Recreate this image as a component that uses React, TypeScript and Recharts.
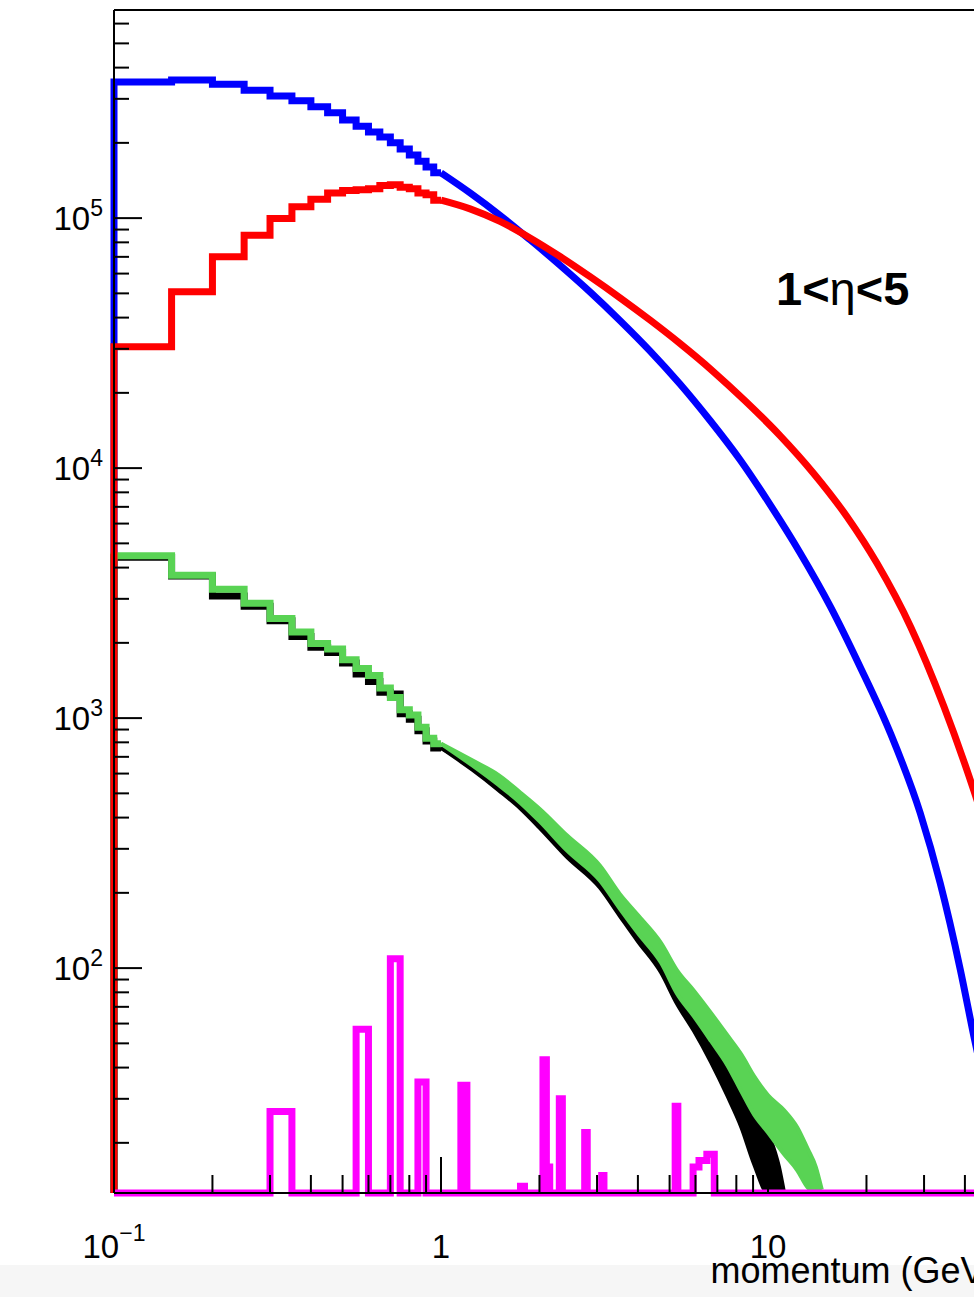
import { ComposedChart, Line, Area, XAxis, YAxis, ReferenceLine } from 'recharts'

const FONT = "'Liberation Sans', Arial, Helvetica, sans-serif"

const X_MIN = 0.1
const X_MAX = 50
const Y_MIN = 12.6 // frame floor, empty bins sit here like in ROOT
const Y_MAX = 680000

// low edges of the 0.05 GeV bins, drawn bin by bin below 1 GeV
const binEdges = [0.1, 0.15, 0.2, 0.25, 0.3, 0.35, 0.4, 0.45, 0.5, 0.55, 0.6, 0.65, 0.7, 0.75, 0.8, 0.85, 0.9, 0.95]
const binEnd = 1.0

const blueBins = [350000, 357000, 343000, 325000, 308000, 295000, 279000, 264000, 247000, 233000, 221000, 211000, 200000, 189000, 179000, 169000, 160000, 152000]
const redBins = [30600, 50700, 70000, 85500, 99700, 111000, 119000, 126000, 129000, 130000, 131000, 135000, 136000, 133000, 131000, 126000, 124000, 118000]
const blackBins = [4400, 3700, 3080, 2800, 2450, 2120, 1920, 1830, 1660, 1500, 1400, 1270, 1250, 1040, 990, 890, 810, 760]
const greenBins = [4460, 3730, 3280, 2880, 2500, 2210, 1990, 1890, 1710, 1580, 1480, 1320, 1210, 1080, 1030, 920, 830, 790]

// above 1 GeV the bins are only a few px wide
const blueTailX = [1.0, 1.23, 1.52, 1.87, 2.31, 2.86, 3.53, 4.36, 5.38, 6.65, 8.21, 10.1, 12.5, 15.5, 19.1, 23.6, 29.2, 33.6, 38.7, 42.7, 47.7]
const blueTail = [151700, 125900, 102300, 82000, 64900, 50600, 38900, 29400, 21700, 15500, 10800, 7210, 4610, 2800, 1610, 879, 417, 219, 99, 52.6, 26.9]
const redTailX = [1.0, 1.227, 1.515, 1.872, 2.312, 2.856, 3.527, 4.356, 5.381, 6.788, 8.505, 10.88, 13.73, 17.44, 21.54, 27.37, 34.53, 42.66, 47.7]
const redTail = [118000, 108900, 97000, 83300, 70200, 58300, 48000, 39100, 31500, 24400, 18600, 13500, 9590, 6390, 4160, 2300, 1110, 510, 323]

// green and black get noisy above 1 GeV: upper / lower envelope
const greenBandX = [1.0, 1.25, 1.5, 1.75, 2.0, 2.43, 3.06, 3.52, 4.0, 4.71, 5.27, 5.94, 6.7, 7.5, 8.3, 9.06, 10.0, 11.2, 12.3, 13.2, 14.0, 14.6]
const greenHi = [790, 676, 592, 503, 434, 339, 257, 198, 163, 126, 98, 81, 66, 54, 45, 37, 31, 27, 23, 19, 16, 13]
const greenLo = [790, 645, 540, 458, 387, 295, 224, 173, 138, 105, 79, 64, 51, 41, 32, 26, 22, 18, 15.5, 13.3, 12.6, 12.6]
const blackBandX = [1.0, 1.25, 1.5, 1.75, 2.0, 2.43, 3.06, 3.52, 4.0, 4.71, 5.27, 5.94, 6.7, 7.5, 8.3, 9.06, 10.0, 10.8, 11.2]
const blackHi = [760, 650, 570, 490, 420, 325, 245, 190, 155, 118, 90, 74, 58, 46, 37, 29, 22, 16, 12.6]
const blackLo = [760, 620, 515, 435, 365, 278, 210, 162, 128, 96, 72, 56, 42, 31, 23, 16.5, 12.6, 12.6, 12.6]

// magenta: only the non-empty bins
const magLo = [0.3, 0.55, 0.7, 0.85, 1.15, 1.75, 2.05, 2.1, 2.3, 2.75, 3.1, 5.2, 5.9, 6.15, 6.5]
const magHi = [0.35, 0.6, 0.75, 0.9, 1.2, 1.8, 2.1, 2.15, 2.35, 2.8, 3.15, 5.3, 6.15, 6.5, 6.85]
const magVal = [26.7, 57, 109, 35, 34, 13.4, 43, 16, 30, 22, 14.8, 28, 16, 17, 18]

const xTicks = [0.1, 0.2, 0.3, 0.4, 0.5, 0.6, 0.7, 0.8, 0.9, 1, 2, 3, 4, 5, 6, 7, 8, 9, 10, 20, 30, 40]
const xMajor: Record<number, [string, string]> = { 0.1: ['10', '\u22121'], 1: ['1', ''], 10: ['10', ''] }
const yDecades = [10, 100, 1000, 10000, 100000]
const yTicks = yDecades
  .flatMap((d) => [1, 2, 3, 4, 5, 6, 7, 8, 9].map((m) => m * d))
  .filter((v) => v > Y_MIN && v < Y_MAX)

type Row = { x: number; [key: string]: number | number[] }
const rows: Row[] = []
const put = (key: string, x: number, v: number | number[]) => rows.push({ x, [key]: v })

const addBins = (key: string, bins: number[]) => {
  put(key, binEdges[0], Y_MIN)
  bins.forEach((v, i) => put(key, binEdges[i], v))
  put(key, binEnd, bins[bins.length - 1])
}
const addCurve = (key: string, xs: number[], ys: number[]) => xs.forEach((x, i) => put(key, x, ys[i]))
const addBand = (key: string, xs: number[], lo: number[], hi: number[]) =>
  xs.forEach((x, i) => put(key, x, [lo[i], hi[i]]))

addBins('blue', blueBins)
addCurve('blueTail', blueTailX, blueTail)
addBins('red', redBins)
addCurve('redTail', redTailX, redTail)
addBins('black', blackBins)
addBand('blackBand', blackBandX, blackLo, blackHi)
addBins('green', greenBins)
addBand('greenBand', greenBandX, greenLo, greenHi)

put('mag', X_MIN, Y_MIN)
magLo.forEach((lo, i) => {
  put('mag', lo, magVal[i])
  if (magLo[i + 1] !== magHi[i]) put('mag', magHi[i], Y_MIN)
})
put('mag', X_MAX, Y_MIN)

rows.sort((a, b) => a.x - b.x)

const YTick = (props: any) => {
  const { x, y, payload } = props
  const v = payload.value
  const major = yDecades.includes(v)
  return (
    <g>
      <line x1={x} x2={x + (major ? 28 : 15)} y1={y} y2={y} stroke="#000" strokeWidth={2} />
      {major && (
        <text x={x - 11} y={y + 12} textAnchor="end" fontSize={33} fontFamily={FONT} fill="#000">
          10
          <tspan dy={-14} fontSize={23}>
            {Math.round(Math.log10(v))}
          </tspan>
        </text>
      )}
    </g>
  )
}

const XTick = (props: any) => {
  const { x, y, payload } = props
  const lab = xMajor[payload.value]
  return (
    <g>
      <line x1={x} x2={x} y1={y} y2={y - (lab ? 36 : 18)} stroke="#000" strokeWidth={2} />
      {lab && (
        <text x={x} y={y + 65} textAnchor="middle" fontSize={33} fontFamily={FONT} fill="#000">
          {lab[0]}
          {lab[1] && (
            <tspan dy={-17} fontSize={23}>
              {lab[1]}
            </tspan>
          )}
        </text>
      )}
    </g>
  )
}

const XTitle = (props: any) => {
  const vb = props.viewBox || { x: 114, y: 1193, width: 882.6 }
  return (
    <text x={vb.x + vb.width} y={vb.y + 90} textAnchor="end" fontSize={36} fontFamily={FONT} fill="#000">
      momentum (GeV)
    </text>
  )
}

const lineProps = {
  dot: false,
  activeDot: false,
  connectNulls: true,
  isAnimationActive: false,
  strokeWidth: 7,
  strokeLinejoin: 'miter' as const,
}

const bandProps = {
  type: 'monotoneX' as const,
  strokeWidth: 4,
  fillOpacity: 1,
  connectNulls: true,
  dot: false,
  activeDot: false,
  isAnimationActive: false,
}

export default function App() {
  return (
    <div style={{ position: 'fixed', left: 0, top: 0, width: 974, height: 1297, overflow: 'hidden', background: '#fff' }}>
      <div style={{ position: 'absolute', left: 0, top: 1265, width: 974, height: 32, background: '#f6f6f6' }} />
      <div style={{ position: 'absolute', left: 0, top: 0 }}>
        <ComposedChart width={1000} height={1297} data={rows} margin={{ top: 10, right: 3.4, bottom: 0, left: 0 }}>
          <XAxis
            dataKey="x"
            type="number"
            scale="log"
            domain={[X_MIN, X_MAX]}
            ticks={xTicks}
            interval={0}
            height={104}
            tickSize={0}
            tickMargin={0}
            tickLine={false}
            axisLine={{ stroke: '#000', strokeWidth: 2 }}
            tick={<XTick />}
            label={<XTitle />}
          />
          <YAxis
            type="number"
            scale="log"
            domain={[Y_MIN, Y_MAX]}
            ticks={yTicks}
            interval={0}
            width={114}
            tickSize={0}
            tickMargin={0}
            tickLine={false}
            axisLine={{ stroke: '#000', strokeWidth: 2 }}
            tick={<YTick />}
          />
          <ReferenceLine y={Y_MAX} stroke="#000" strokeWidth={2} />
          <Line {...lineProps} dataKey="blue" type="stepAfter" stroke="#0000ff" />
          <Line {...lineProps} dataKey="blueTail" type="monotoneX" stroke="#0000ff" />
          <Line {...lineProps} dataKey="black" type="stepAfter" stroke="#000000" />
          <Area {...bandProps} dataKey="blackBand" stroke="#000000" fill="#000000" />
          <Line {...lineProps} dataKey="green" type="stepAfter" stroke="#59d354" />
          <Area {...bandProps} dataKey="greenBand" stroke="#59d354" fill="#59d354" />
          <Line {...lineProps} dataKey="red" type="stepAfter" stroke="#ff0000" />
          <Line {...lineProps} dataKey="redTail" type="monotoneX" stroke="#ff0000" />
          <Line {...lineProps} dataKey="mag" type="stepAfter" stroke="#ff00ff" />
        </ComposedChart>
      </div>
      <svg style={{ position: 'absolute', left: 0, top: 0 }} width={974} height={400}>
        <text x={776} y={305} fontSize={47} fontWeight="bold" fontFamily={FONT} fill="#000">
          1&lt;<tspan fontWeight="normal">η</tspan>&lt;5
        </text>
      </svg>
    </div>
  )
}
